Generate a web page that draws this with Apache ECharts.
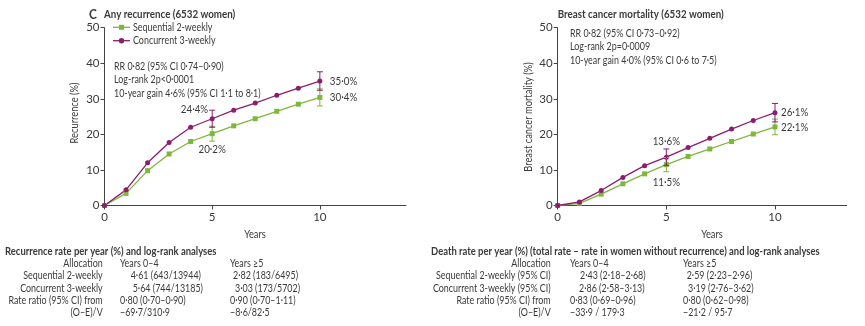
<!DOCTYPE html>
<html>
<head>
<meta charset="utf-8">
<script src="https://cdn.jsdelivr.net/npm/echarts@6/dist/echarts.min.js"></script>
<style>
  html, body { margin: 0; padding: 0; background: #fff; }
  #chart { width: 865px; height: 326px; }
</style>
</head>
<body>
<div id="chart"></div>
<script>
// Follow-up years
const years = [0, 1, 2, 3, 4, 5, 6, 7, 8, 9, 10];

// Any recurrence (%)
const recurSequential = [0, 3.4, 9.8, 14.5, 18.0, 20.2, 22.4, 24.4, 26.5, 28.5, 30.4];
const recurConcurrent = [0, 4.4, 12.0, 17.7, 22.0, 24.4, 26.8, 28.8, 31.0, 33.0, 35.0];
// error bars: [year, low, high]
const recurSequentialCI = [[5, 18.1, 22.3], [10, 28.0, 32.8]];
const recurConcurrentCI = [[5, 22.0, 26.8], [10, 32.4, 37.6]];

// Breast cancer mortality (%)
const mortSequential = [0, 0.6, 3.2, 6.1, 8.9, 11.5, 13.8, 15.9, 18.0, 20.1, 22.1];
const mortConcurrent = [0, 1.0, 4.2, 7.9, 11.2, 13.6, 16.3, 18.9, 21.5, 23.9, 26.1];
const mortSequentialCI = [[5, 9.5, 13.5], [10, 19.9, 24.3]];
const mortConcurrentCI = [[5, 11.3, 15.9], [10, 23.5, 28.7]];

const yTicks = [0, 10, 20, 30, 40, 50];
const xTicks = [0, 5, 10];

// Table text
const recurTable = [
  ['Allocation', 'Years 0–4', 'Years ≥5'],
  ['Sequential 2-weekly', '4·61 (643/13944)', '2·82 (183/6495)'],
  ['Concurrent 3-weekly', '5·64 (744/13185)', '3·03 (173/5702)'],
  ['Rate ratio (95% CI) from', '0·80 (0·70–0·90)', '0·90 (0·70–1·11)'],
  ['(O–E)/V', '−69·7/310·9', '−8·6/82·5']
];
const mortTable = [
  ['Allocation', 'Years 0–4', 'Years ≥5'],
  ['Sequential 2-weekly (95% CI)', '2·43 (2·18–2·68)', '2·59 (2·23–2·96)'],
  ['Concurrent 3-weekly (95% CI)', '2·86 (2·58–3·13)', '3·19 (2·76–3·62)'],
  ['Rate ratio (95% CI) from', '0·83 (0·69–0·96)', '0·80 (0·62–0·98)'],
  ['(O–E)/V', '−33·9 / 179·3', '−21·2 / 95·7']
];

const GREEN = '#7cb83c';
const PURPLE = '#8c1c6c';
const TEXT = '#3a3a3a';
const FONT = 'Lato, "Open Sans", sans-serif';
// horizontal squeeze giving the condensed look of the typeface
const SX_BOLD = 0.85;
const SX = 0.81;

const chart = echarts.init(document.getElementById('chart'), null, { renderer: 'canvas' });

function pairs(vals) { return years.map((y, i) => [y, vals[i]]); }

function lineSeries(name, vals, color, symbol, idx) {
  return {
    name, type: 'line', xAxisIndex: idx, yAxisIndex: idx,
    data: pairs(vals), symbol, symbolSize: 5, showSymbol: true,
    lineStyle: { color, width: 1.3 }, itemStyle: { color },
    z: 3, animation: false
  };
}

function errorSeries(ci, color, idx) {
  return {
    type: 'custom', xAxisIndex: idx, yAxisIndex: idx, z: 4, animation: false,
    data: ci,
    renderItem(params, api) {
      const x = api.value(0);
      const lo = api.coord([x, api.value(1)]);
      const hi = api.coord([x, api.value(2)]);
      const w = 3;
      const style = { stroke: color, lineWidth: 1 };
      return {
        type: 'group',
        children: [
          { type: 'line', shape: { x1: lo[0], y1: lo[1], x2: hi[0], y2: hi[1] }, style },
          { type: 'line', shape: { x1: lo[0] - w, y1: lo[1], x2: lo[0] + w, y2: lo[1] }, style },
          { type: 'line', shape: { x1: hi[0] - w, y1: hi[1], x2: hi[0] + w, y2: hi[1] }, style }
        ]
      };
    }
  };
}

// value label placed at a data point, offset in pixels
function valueLabel(idx, x, y, text, align, dx, dy) {
  return {
    type: 'custom', xAxisIndex: idx, yAxisIndex: idx, z: 5, silent: true, animation: false,
    data: [[x, y]],
    renderItem(params, api) {
      const p = api.coord([api.value(0), api.value(1)]);
      return {
        type: 'text', x: p[0] + dx, y: p[1] + dy, scaleX: 0.85,
        style: { text, fill: TEXT, textAlign: align, textVerticalAlign: 'middle',
          font: '11.5px ' + FONT }
      };
    }
  };
}

function xAxis(idx, max) {
  return {
    gridIndex: idx, type: 'value', min: 0, max, interval: 5,
    axisLine: { lineStyle: { color: '#444', width: 1 } },
    axisTick: { show: true, length: 4, lineStyle: { color: '#444' } },
    axisLabel: { color: TEXT, fontFamily: FONT, fontSize: 11.5, margin: 6, showMaxLabel: false,
      formatter: v => (xTicks.includes(v) ? String(v) : '') },
    splitLine: { show: false }
  };
}

function yAxis(idx) {
  return {
    gridIndex: idx, type: 'value', min: 0, max: 50, interval: 10,
    axisLine: { show: true, lineStyle: { color: '#444', width: 1 } },
    axisTick: { show: true, length: 4, lineStyle: { color: '#444' } },
    axisLabel: { color: TEXT, fontFamily: FONT, fontSize: 11.5, margin: 5,
      formatter: v => (yTicks.includes(v) ? String(v) : '') },
    splitLine: { show: false }
  };
}

function txt(x, y, text, align, bold, size, sx) {
  return {
    type: 'text', x, y, silent: true, scaleX: sx || (bold ? SX_BOLD : SX),
    style: {
      text, fill: TEXT, textAlign: align || 'left', textVerticalAlign: 'middle',
      font: (bold ? 'bold ' : '') + (size || 11) + 'px ' + FONT
    }
  };
}

// rotated axis title: squeeze along the reading direction
function vtxt(x, y, text) {
  return {
    type: 'text', x, y, silent: true, rotation: Math.PI / 2, scaleX: SX,
    style: { text, fill: TEXT, textAlign: 'center', textVerticalAlign: 'middle', font: '11.5px ' + FONT }
  };
}

function legendEl(x, y, color, symbol, label) {
  const mark = symbol === 'rect'
    ? { type: 'rect', shape: { x: x + 6, y: y - 2.5, width: 5, height: 5 }, style: { fill: color } }
    : { type: 'circle', shape: { cx: x + 8.5, cy: y, r: 2.7 }, style: { fill: color } };
  return [
    { type: 'line', shape: { x1: x, y1: y, x2: x + 17, y2: y }, style: { stroke: color, lineWidth: 1.3 } },
    mark,
    txt(x + 20, y, label, 'left', false, 11.5, 0.775)
  ];
}

function tableEls(x0, col1Right, col2, col3, title, rows, indents) {
  const els = [txt(x0, 251, title, 'left', true, 11, 0.86)];
  const rowY = [263.3, 275.8, 288.2, 300.6, 312.8];
  rows.forEach((r, i) => {
    els.push(txt(col1Right, rowY[i], r[0], 'right'));
    els.push(txt(col2 + indents[i][0], rowY[i], r[1], 'left'));
    els.push(txt(col3 + indents[i][1], rowY[i], r[2], 'left'));
  });
  return els;
}

const graphics = [].concat(
  [txt(89, 14, 'C', 'left', true, 14),
   txt(104, 14, 'Any recurrence (6532 women)', 'left', true, 11.5),
   txt(557.7, 14, 'Breast cancer mortality (6532 women)', 'left', true, 11.5),
   vtxt(74, 113, 'Recurrence (%)'),
   vtxt(528, 117, 'Breast cancer mortality (%)'),
   txt(255, 234, 'Years', 'center', false, 11.5),
   txt(712, 234, 'Years', 'center', false, 11.5)],
  legendEl(113, 27.3, GREEN, 'rect', 'Sequential 2-weekly'),
  legendEl(113, 40.7, PURPLE, 'circle', 'Concurrent 3-weekly'),
  [txt(114, 66, 'RR 0·82 (95% CI 0·74–0·90)', 'left', false, 11.5, 0.775),
   txt(114, 79.5, 'Log-rank 2p<0·0001', 'left', false, 11.5, 0.775),
   txt(114, 93, '10-year gain 4·6% (95% CI 1·1 to 8·1)', 'left', false, 11.5, 0.775),
   txt(570, 33, 'RR 0·82 (95% CI 0·73–0·92)', 'left', false, 11.5, 0.775),
   txt(570, 46.5, 'Log-rank 2p=0·0009', 'left', false, 11.5, 0.775),
   txt(570, 59.8, '10-year gain 4·0% (95% CI 0·6 to 7·5)', 'left', false, 11.5, 0.775)],
  tableEls(5, 102.7, 120, 230,
    'Recurrence rate per year (%) and log-rank analyses', recurTable,
    [[0, 0], [10.7, 3], [12.7, 5], [0, 0], [0, 0]]),
  tableEls(431, 550.7, 570, 683,
    'Death rate per year (%) (total rate – rate in women without recurrence) and log-rank analyses', mortTable,
    [[0, 0], [10, 3.7], [9, 5], [0, 0], [0, 0]])
);

chart.setOption({
  animation: false,
  backgroundColor: '#fff',
  grid: [
    { left: 104.5, top: 27.7, width: 301.5, height: 177.8 },
    { left: 557.7, top: 27.7, width: 289, height: 177.8 }
  ],
  xAxis: [xAxis(0, 14), xAxis(1, 13.3)],
  yAxis: [yAxis(0), yAxis(1)],
  series: [
    lineSeries('Sequential 2-weekly', recurSequential, GREEN, 'rect', 0),
    lineSeries('Concurrent 3-weekly', recurConcurrent, PURPLE, 'circle', 0),
    errorSeries(recurSequentialCI, GREEN, 0),
    errorSeries(recurConcurrentCI, PURPLE, 0),
    lineSeries('Sequential 2-weekly', mortSequential, GREEN, 'rect', 1),
    lineSeries('Concurrent 3-weekly', mortConcurrent, PURPLE, 'circle', 1),
    errorSeries(mortSequentialCI, GREEN, 1),
    errorSeries(mortConcurrentCI, PURPLE, 1),
    valueLabel(0, 5, recurConcurrent[5], '24·4%', 'right', -4, -9),
    valueLabel(0, 5, recurSequential[5], '20·2%', 'center', 0, 16),
    valueLabel(0, 10, recurConcurrent[10], '35·0%', 'left', 10, 0),
    valueLabel(0, 10, recurSequential[10], '30·4%', 'left', 10, 0),
    valueLabel(1, 5, mortConcurrent[5], '13·6%', 'center', 0, -16),
    valueLabel(1, 5, mortSequential[5], '11·5%', 'center', 0, 18),
    valueLabel(1, 10, mortConcurrent[10], '26·1%', 'left', 6, 0),
    valueLabel(1, 10, mortSequential[10], '22·1%', 'left', 6, 0)
  ],
  graphic: graphics
});
</script>
</body>
</html>
